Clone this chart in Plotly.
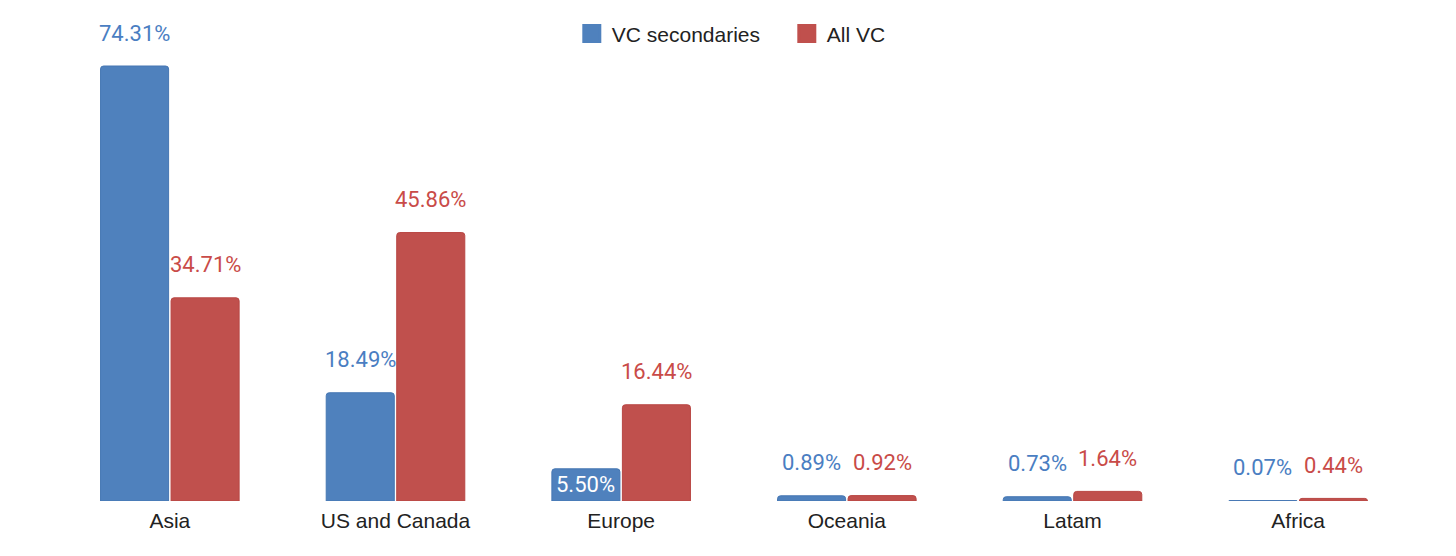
import plotly.graph_objects as go

regions = ["Asia", "US and Canada", "Europe", "Oceania", "Latam", "Africa"]
vc_secondaries = [74.31, 18.49, 5.50, 0.89, 0.73, 0.07]
all_vc = [34.71, 45.86, 16.44, 0.92, 1.64, 0.44]

blue = "#4F81BD"
red = "#C0504D"
label_font = "Roboto, Arial, sans-serif"

fig = go.Figure()
fig.add_trace(go.Bar(
    x=regions, y=vc_secondaries, name="VC secondaries", showlegend=False,
    marker=dict(color=blue, line=dict(color="#4677B3", width=1), cornerradius=3),
))
fig.add_trace(go.Bar(
    x=regions, y=all_vc, name="All VC", showlegend=False,
    marker=dict(color=red, line=dict(color="#B84643", width=1), cornerradius=3),
))
# legend entries with bigger square swatches
for name, color in [("VC secondaries", blue), ("All VC", red)]:
    fig.add_trace(go.Scatter(
        x=[None], y=[None], mode="markers", name=name,
        marker=dict(symbol="square", size=16, color=color, line=dict(color=color, width=3)),
    ))

# value labels, shifted to sit over each bar of the group
offset = 0.156
annotations = []
for i, region in enumerate(regions):
    for val, color, dx in [(vc_secondaries[i], "#4A7EC2", -offset), (all_vc[i], "#C94B48", offset)]:
        inside = region == "Europe" and dx < 0
        annotations.append(dict(
            x=i + dx, y=val / 2 if inside else val, xref="x", yref="y",
            text=f"{val:.2f}%", showarrow=False,
            yanchor="middle", yshift=0 if inside else 33,
            font=dict(family=label_font, size=22, color="white" if inside else color),
        ))

fig.update_layout(
    width=1456, height=556,
    margin=dict(l=49, r=53, t=12, b=63, autoexpand=False),
    paper_bgcolor="white", plot_bgcolor="white",
    barmode="group", bargap=0.375, bargroupgap=0.035,
    font=dict(family="Arial, Liberation Sans, sans-serif", size=21, color="#222222"),
    legend=dict(orientation="h", x=0.539, xanchor="center",
                y=0.971, yanchor="middle", font=dict(size=21),
                entrywidth=170, bgcolor="rgba(0,0,0,0)", itemclick=False),
    annotations=annotations,
    xaxis=dict(showgrid=False, showline=False, ticks="", tickfont=dict(size=21),
               ticklabelstandoff=5),
    yaxis=dict(range=[0, 82.17], visible=False, showgrid=False),
)

fig.write_html("out.html")
